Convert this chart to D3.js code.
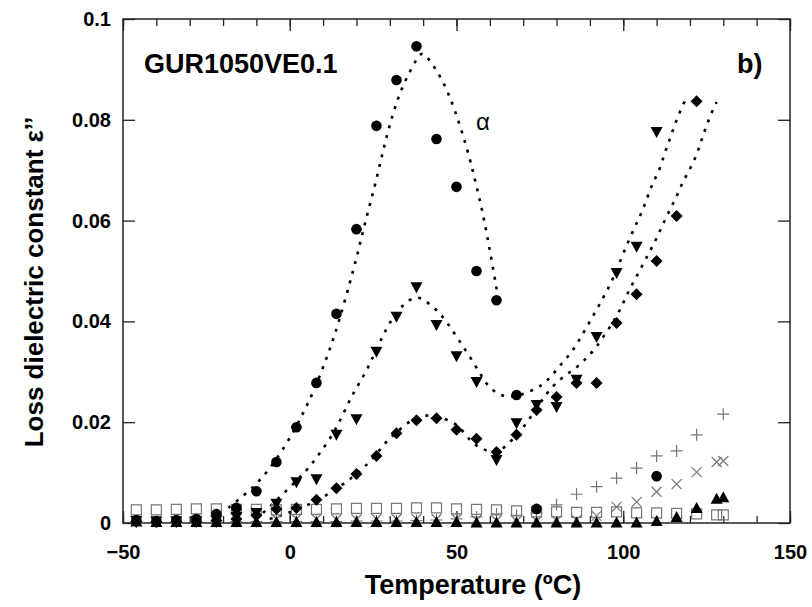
<!DOCTYPE html>
<html><head><meta charset="utf-8">
<script src="https://cdn.jsdelivr.net/npm/d3@7"></script>
<style>body{margin:0;background:#fff}</style>
</head><body><svg id="c" width="812" height="607"></svg>
<script>
// ---- data ----
const xTicks = [-50, 0, 50, 100, 150];
const yTicks = [0, 0.02, 0.04, 0.06, 0.08, 0.1];
const yTickLabels = ["0", "0.02", "0.04", "0.06", "0.08", "0.1"];

const circT = [-46,-40,-34,-28,-22,-16,-10,-4,2,8,14,20,26,32,38,44,50,56,62,68,74,110];
const circV = [0.0006,0.0004,0.0006,0.0008,0.0018,0.003,0.0063,0.0121,0.019,0.0278,0.0415,0.0583,0.0788,0.0879,0.0946,0.0762,0.0667,0.05,0.0442,0.0254,0.0028,0.0093];

const tdnT = [-46,-40,-34,-28,-22,-16,-10,-4,2,8,14,20,26,32,38,44,50,56,62,68,74,80,86,92,98,104,110];
const tdnV = [0.0004,0.0003,0.0003,0.0003,0.0005,0.0012,0.002,0.0038,0.0081,0.0087,0.0175,0.0206,0.034,0.0409,0.0468,0.0393,0.0331,0.028,0.0125,0.0198,0.0234,0.023,0.0284,0.0369,0.0496,0.0548,0.0776];

const diaT = [-46,-40,-34,-28,-22,-16,-10,-4,2,8,14,20,26,32,38,44,50,56,62,68,74,80,86,92,98,104,110,116,122];
const diaV = [0.0003,0.0002,0.0003,0.0003,0.0005,0.0008,0.0015,0.0028,0.003,0.0046,0.0069,0.0097,0.0133,0.0178,0.0204,0.0208,0.0185,0.0167,0.0141,0.0175,0.0224,0.025,0.0278,0.0278,0.0397,0.0454,0.052,0.0609,0.0837];

const sqT = [-46,-40,-34,-28,-22,-16,-10,-4,2,8,14,20,26,32,38,44,50,56,62,68,74,80,86,92,98,104,110,116,122,128,130];
const sqV = [0.0026,0.0026,0.0027,0.0028,0.0028,0.0027,0.0027,0.0026,0.0027,0.0027,0.0028,0.0029,0.0029,0.0029,0.003,0.003,0.0028,0.0027,0.0026,0.0024,0.0022,0.0022,0.0021,0.0021,0.0022,0.002,0.002,0.0019,0.0018,0.0016,0.0016];

const plusT = [-46,-40,-34,-28,-22,-16,-10,-4,2,8,14,20,26,32,38,44,50,56,62,68,74,80,86,92,98,104,110,116,122,130];
const plusV = [0.0002,0.0002,0.0002,0.0002,0.0002,0.0003,0.0003,0.0003,0.0003,0.0003,0.0003,0.0004,0.0004,0.0004,0.0005,0.0006,0.0008,0.0012,0.0018,0.0015,0.002,0.0036,0.0057,0.0072,0.0089,0.0109,0.0133,0.0143,0.0175,0.0216];

const timesT = [-46,-40,-34,-28,-22,-16,-10,-4,2,8,14,20,26,32,38,44,50,56,62,68,74,80,86,92,98,104,110,116,122,128,130];
const timesV = [0.0004,0.0004,0.0004,0.0004,0.0005,0.0012,0.0009,0.0008,0.0008,0.0008,0.0007,0.0007,0.0008,0.0008,0.0008,0.0008,0.0008,0.0006,0.0005,0.0004,0.0004,0.0005,0.0006,0.0014,0.0032,0.0042,0.0062,0.0077,0.0101,0.0121,0.0123];

const tupT = [-46,-40,-34,-28,-22,-16,-10,-4,2,8,14,20,26,32,38,44,50,56,62,68,74,80,86,92,98,104,110,116,122,128,130];
const tupV = [0.0003,0.0002,0.0002,0.0002,0.0002,0.0002,0.0002,0.0002,0.0002,0.0002,0.0002,0.0002,0.0002,0.0002,0.0002,0.0002,0.0002,0.0001,0.0001,0.0001,0.0001,0.0001,0.0001,0.0001,0.0001,0.0001,0.0004,0.0012,0.003,0.0048,0.0051];

// fitted dotted curves
const fit1T = [-18.4,-15.4,-8.3,-0.5,4.0,7.0,11.2,14.3,18.1,20.5,22.6,25.6,28,30.6,33.6,37.5,39.5,41.1,46,49.5,53.1,55.5,57.9,59.6,62.1];
const fit1V = [0.003,0.0046,0.0085,0.016,0.0218,0.0258,0.0329,0.0389,0.0478,0.0538,0.0597,0.067,0.074,0.0806,0.0865,0.0915,0.0935,0.0927,0.0879,0.082,0.0746,0.0683,0.0615,0.0556,0.0462];

const fit2T = [-8,-0.8,5.2,8.2,11.2,14.2,17.5,19.6,22,24.1,28,30.1,33.1,36,38.5,40.5,44.1,47.1,50.1,53.5,57,59.1,63,67,71.1,75.6,78.6,81.6,84.6,87,89.4,92,94.4,96.8,99.8,103.4,105.5,107.3,108.8,110.9,112.4,113.9,115.4,116.9,119];
const fit2V = [0.002,0.0065,0.0105,0.0131,0.0159,0.019,0.0238,0.0264,0.029,0.0317,0.0373,0.0399,0.0427,0.0444,0.0449,0.0442,0.0423,0.0399,0.0369,0.0335,0.0298,0.0273,0.0252,0.025,0.0258,0.0272,0.0292,0.0317,0.0339,0.0365,0.0393,0.0423,0.0452,0.0482,0.0532,0.0587,0.0615,0.0647,0.0675,0.070,0.0734,0.076,0.079,0.0815,0.0845];

const fit3T = [-6,2,10,16.6,24.1,29.2,32.2,36,41.1,45,50.1,53.1,56.1,60.6,63.9,68.1,71.1,75.6,78.6,81.9,86,89,92,95,97.4,99.5,101.3,103.4,105.8,107.9,110,111.8,113.9,116,117.8,119.9,122,123.5,125,126.8,128];
const fit3V = [0.0008,0.0025,0.005,0.0079,0.0119,0.0165,0.018,0.0204,0.0216,0.021,0.0198,0.0171,0.0151,0.0139,0.0145,0.0175,0.0198,0.0244,0.027,0.029,0.0308,0.0327,0.0349,0.0379,0.0403,0.0429,0.0456,0.0482,0.0512,0.0538,0.0565,0.0591,0.0621,0.0647,0.0677,0.070,0.073,0.076,0.079,0.0819,0.0835];

// ---- layout ----
const L = 123, R = 790, T = 19, B = 523;
const FONT = "'Liberation Sans', Arial, Helvetica, sans-serif";
const svg = d3.select("#c");
const x = d3.scaleLinear().domain([-50, 150]).range([L, R]);
const y = d3.scaleLinear().domain([0, 0.1]).range([B, T]);

// frame
svg.append("rect").attr("x", L).attr("y", T).attr("width", R - L).attr("height", B - T)
  .attr("fill", "none").attr("stroke", "#222").attr("stroke-width", 1.5);

// ticks
const minorX = d3.range(-50, 151, 10);
function axisStyle(g){ g.select(".domain").remove(); g.selectAll("line").attr("stroke","#222").attr("stroke-width",1.3); }
svg.append("g").attr("transform", `translate(0,${B})`)
  .call(d3.axisBottom(x).tickValues(minorX).tickSize(-7).tickFormat(""))
  .call(axisStyle);
svg.append("g").attr("transform", `translate(0,${T})`)
  .call(d3.axisTop(x).tickValues(minorX).tickSize(-7).tickFormat(""))
  .call(axisStyle);
const gx = svg.append("g").attr("transform", `translate(0,${B})`)
  .call(d3.axisBottom(x).tickValues(xTicks).tickSize(-12).tickPadding(22).tickFormat(d3.format("d")))
  .call(axisStyle);
gx.selectAll("text").attr("font-family", FONT).attr("font-weight", "bold").attr("font-size", 20).attr("fill", "#000");
svg.append("g").attr("transform", `translate(0,${T})`)
  .call(d3.axisTop(x).tickValues(xTicks).tickSize(-12).tickFormat(""))
  .call(axisStyle);
const gy = svg.append("g").attr("transform", `translate(${L},0)`)
  .call(d3.axisLeft(y).tickValues(yTicks).tickSize(-12).tickPadding(12).tickFormat((d,i)=>yTickLabels[i]))
  .call(axisStyle);
gy.selectAll("text").attr("font-family", FONT).attr("font-weight", "bold").attr("font-size", 20).attr("fill", "#000");
svg.append("g").attr("transform", `translate(${R},0)`)
  .call(d3.axisRight(y).tickValues(yTicks).tickSize(-12).tickFormat(""))
  .call(axisStyle);

// curves
const line = d3.line().x(d => x(d[0])).y(d => y(d[1])).curve(d3.curveBasis);
[[fit1T, fit1V], [fit2T, fit2V], [fit3T, fit3V]].forEach(([ts, vs]) => {
  svg.append("path").attr("d", line(ts.map((t, i) => [t, vs[i]])))
    .attr("fill", "none").attr("stroke", "#000").attr("stroke-width", 2.6)
    .attr("stroke-dasharray", "3,7");
});

// symbols
const shapes = {
  circle: "M5.3,0A5.3,5.3 0 1,1 -5.3,0A5.3,5.3 0 1,1 5.3,0Z",
  tdown: "M-6,-5L6,-5L0,6Z",
  tup: "M-6,5L6,5L0,-6Z",
  diamond: "M0,-6L6,0L0,6L-6,0Z",
  square: "M-5,-5H5V5H-5Z",
  plus: "M-6,0H6M0,-6V6",
  times: "M-5,-5L5,5M-5,5L5,-5"
};
function drawSeries(ts, vs, shape, filled) {
  svg.append("g").selectAll("path").data(ts.map((t, i) => [t, vs[i]])).join("path")
    .attr("transform", d => `translate(${x(d[0])},${y(d[1])})`)
    .attr("d", shapes[shape])
    .attr("fill", filled ? "#000" : "none")
    .attr("stroke", filled ? "none" : "#777")
    .attr("stroke-width", 1.2);
}
drawSeries(sqT, sqV, "square", false);
drawSeries(plusT, plusV, "plus", false);
drawSeries(timesT, timesV, "times", false);
drawSeries(tupT, tupV, "tup", true);
drawSeries(diaT, diaV, "diamond", true);
drawSeries(tdnT, tdnV, "tdown", true);
drawSeries(circT, circV, "circle", true);

// texts
svg.append("text").attr("x", 144).attr("y", 73).text("GUR1050VE0.1")
  .attr("font-family", FONT).attr("font-weight", "bold").attr("font-size", 27);
svg.append("text").attr("x", 737).attr("y", 73).text("b)")
  .attr("font-family", FONT).attr("font-weight", "bold").attr("font-size", 27);
svg.append("text").attr("x", 476).attr("y", 130).text("α")
  .attr("font-family", FONT).attr("font-size", 24);
svg.append("text").attr("x", 473).attr("y", 594).attr("text-anchor", "middle")
  .text("Temperature (ºC)")
  .attr("font-family", FONT).attr("font-weight", "bold").attr("font-size", 27);
svg.append("text").attr("transform", `translate(43,282) rotate(-90)`).attr("text-anchor", "middle")
  .text("Loss dielectric constant  ε’’")
  .attr("font-family", FONT).attr("font-weight", "bold").attr("font-size", 26);
</script></body></html>
